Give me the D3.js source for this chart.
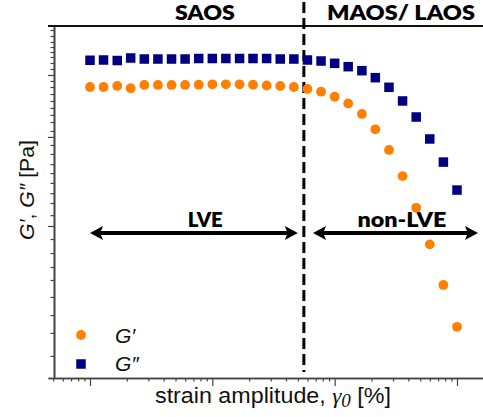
<!DOCTYPE html>
<html>
<head>
<meta charset="utf-8">
<script src="https://cdn.jsdelivr.net/npm/d3@7"></script>
<style>
  html, body { margin: 0; padding: 0; background: #fff; }
  svg { display: block; }
</style>
</head>
<body>
<svg id="chart" width="483" height="417"></svg>
<script>
// Strain amplitude sweep: γ0 in %
const strain = [0.01, 0.0129, 0.0167, 0.0215, 0.0278, 0.0359, 0.0464, 0.0599, 0.0774,
                0.1, 0.129, 0.167, 0.215, 0.278, 0.359, 0.464, 0.599, 0.774,
                1, 1.29, 1.67, 2.15, 2.78, 3.59, 4.64, 5.99, 7.74, 10];

// Storage modulus G′ [Pa]
const storageModulus = [8330, 8330, 8460, 8170, 8590, 8590, 8590, 8590, 8630,
                        8680, 8680, 8680, 8630, 8520, 8460, 8330, 8080, 7750,
                        7180, 6480, 5520, 4370, 3190, 2140, 1320, 756, 407, 215];

// Loss modulus G″ [Pa]
const lossModulus = [12520, 12570, 12470, 12960, 12760, 12760, 12760, 12760, 12860,
                     12860, 12860, 12860, 12860, 12860, 12760, 12760, 12570, 12380,
                     11950, 11350, 10680, 9600, 8290, 6730, 5270, 3770, 2650, 1730];

// Unlabelled modulus axis ticks [Pa]
const yMajorTicks = [1000, 3890, 10000];
const yMinorTicks = [19860, 18130, 16540, 15320, 14200, 13160, 12010, 10960,
                     9130, 8330, 7480, 6730, 6050, 5440, 4880, 4260,
                     3440, 3000, 2570, 2240, 1930, 1650, 1420, 1180,
                     820, 662, 535, 439, 339, 257, 196, 138];

// Regimes: boundary strain and the header labels
const regimeBoundary = 0.56;
const regimeNames = ["SAOS", "MAOS/ LAOS"];
const regimeCentres = [0.087, 3.48];

// Double-headed arrows marking the linear / nonlinear ranges
const rangeNames = ["LVE", "non-LVE"];
const rangeStart = [0.01, 0.665];
const rangeEnd = [0.5, 14.85];
const rangeLabelCentres = [0.0875, 3.55];
const rangeLevel = 900;   // Pa

const seriesNames = ["G′", "G″"];
const colors = { storage: "#ff8000", loss: "#000080" };

const svg = d3.select("#chart");

// Scales: decades of strain are ~122 px apart, decades of modulus ~151 px
const x = d3.scaleLog().domain([0.01, 10]).range([90, 457]);
const y = d3.scaleLog().domain([100, 10000]).range([377, 75]);

const frameLeft = 48, frameRight = 483, frameTop = 26, frameBottom = 378, yAxisX = 54;
const xAxisScale = x.copy().domain([x.invert(frameLeft), x.invert(frameRight)]).range([frameLeft, frameRight]);
const yAxisScale = y.copy().domain([y.invert(frameBottom), y.invert(frameTop)]).range([frameBottom, frameTop]);

// Bottom axis: minor then major ticks
const isDecade = v => Math.abs(Math.log10(v) - Math.round(Math.log10(v))) < 1e-6;
const xMinor = xAxisScale.ticks().filter(v => !isDecade(v));
const xMajor = xAxisScale.ticks().filter(isDecade);

const gx = svg.append("g").attr("transform", `translate(0,${frameBottom})`);
gx.append("g").call(d3.axisBottom(xAxisScale).tickValues(xMinor).tickSize(3.5).tickSizeOuter(0).tickFormat(""));
gx.append("g").call(d3.axisBottom(xAxisScale).tickValues(xMajor).tickSize(8).tickSizeOuter(0).tickFormat(""));
gx.selectAll("path.domain").attr("stroke", "#444").attr("stroke-width", 1.6);
gx.selectAll(".tick line").attr("stroke", "#444").attr("stroke-width", 1.2);

// Left axis
const gy = svg.append("g").attr("transform", `translate(${yAxisX},0)`);
gy.append("g").call(d3.axisLeft(yAxisScale).tickValues(yMinorTicks).tickSize(3.5).tickSizeOuter(0).tickFormat(""));
gy.append("g").call(d3.axisLeft(yAxisScale).tickValues(yMajorTicks).tickSize(6).tickSizeOuter(0).tickFormat(""));
gy.selectAll("path.domain").attr("stroke", "#444").attr("stroke-width", 1.6);
gy.selectAll(".tick line").attr("stroke", "#444").attr("stroke-width", 1.2);

// Top frame line
svg.append("line")
  .attr("x1", frameLeft).attr("x2", frameRight)
  .attr("y1", frameTop).attr("y2", frameTop)
  .attr("stroke", "#111").attr("stroke-width", 2);

// Regime boundary
svg.append("line")
  .attr("x1", x(regimeBoundary)).attr("x2", x(regimeBoundary))
  .attr("y1", 2).attr("y2", frameBottom - 6)
  .attr("stroke", "#000").attr("stroke-width", 3)
  .attr("stroke-dasharray", "11,5");

// Header labels
const boldFont = "Lato, 'Open Sans', sans-serif";
const regimeWidths = [60, 148];
svg.selectAll("text.regime").data(regimeNames).join("text")
  .attr("class", "regime")
  .attr("x", (d, i) => x(regimeCentres[i]))
  .attr("y", 19.5)
  .attr("text-anchor", "middle")
  .attr("font-family", boldFont).attr("font-weight", 800).attr("font-size", 21)
  .attr("textLength", (d, i) => regimeWidths[i])
  .attr("lengthAdjust", "spacingAndGlyphs")
  .text(d => d);

// Range arrows
const headLen = 13, headHalf = 7, shaft = 4;
function arrowPath(x1, x2, yc) {
  const n = headLen * 0.85;
  return [
    `M${x1},${yc} L${x1 + headLen},${yc - headHalf} L${x1 + n},${yc - shaft / 2}`,
    `L${x2 - n},${yc - shaft / 2} L${x2 - headLen},${yc - headHalf} L${x2},${yc}`,
    `L${x2 - headLen},${yc + headHalf} L${x2 - n},${yc + shaft / 2}`,
    `L${x1 + n},${yc + shaft / 2} L${x1 + headLen},${yc + headHalf} Z`
  ].join(" ");
}
svg.selectAll("path.range").data(rangeNames).join("path")
  .attr("class", "range")
  .attr("d", (d, i) => arrowPath(x(rangeStart[i]), x(rangeEnd[i]), y(rangeLevel)))
  .attr("fill", "#000");

const rangeWidths = [35, 89];
svg.selectAll("text.rangeLabel").data(rangeNames).join("text")
  .attr("class", "rangeLabel")
  .attr("x", (d, i) => x(rangeLabelCentres[i]))
  .attr("y", y(rangeLevel) - 6)
  .attr("text-anchor", "middle")
  .attr("font-family", boldFont).attr("font-weight", 800).attr("font-size", 21)
  .attr("textLength", (d, i) => rangeWidths[i])
  .attr("lengthAdjust", "spacingAndGlyphs")
  .text(d => d);

// Data: G″ squares, G′ circles
const sq = 9.5;
svg.append("g").selectAll("rect").data(strain).join("rect")
  .attr("x", d => x(d) - sq / 2)
  .attr("y", (d, i) => y(lossModulus[i]) - sq / 2)
  .attr("width", sq).attr("height", sq)
  .attr("fill", colors.loss);

svg.append("g").selectAll("circle").data(strain).join("circle")
  .attr("cx", d => x(d))
  .attr("cy", (d, i) => y(storageModulus[i]))
  .attr("r", 4.9)
  .attr("fill", colors.storage);

// Legend
const legend = svg.append("g");
legend.append("circle").attr("cx", 81).attr("cy", 335).attr("r", 4.9).attr("fill", colors.storage);
legend.append("rect").attr("x", 81 - sq / 2).attr("y", 364 - sq / 2).attr("width", sq).attr("height", sq).attr("fill", colors.loss);
legend.selectAll("text").data(seriesNames).join("text")
  .attr("x", 115)
  .attr("y", (d, i) => 342.5 + i * 28.5)
  .attr("font-family", "'Liberation Sans', Arial, sans-serif")
  .attr("font-style", "italic").attr("font-size", 21)
  .attr("fill", "#111")
  .text(d => d);

// Axis titles
const sans = "'Liberation Sans', Arial, sans-serif";
const serif = "'Liberation Serif', 'Times New Roman', serif";
const yTitle = svg.append("text")
  .attr("transform", "translate(34,190) rotate(-90)")
  .attr("text-anchor", "middle")
  .attr("font-family", sans).attr("font-size", 20).attr("fill", "#111")
  .attr("textLength", 100).attr("lengthAdjust", "spacingAndGlyphs");
yTitle.append("tspan").attr("font-style", "italic").text("G′");
yTitle.append("tspan").text(", ");
yTitle.append("tspan").attr("font-style", "italic").text("G″");
yTitle.append("tspan").text(" [Pa]");

const xTitle = svg.append("text")
  .attr("x", 273).attr("y", 403)
  .attr("text-anchor", "middle")
  .attr("font-family", sans).attr("font-size", 22).attr("fill", "#111")
  .attr("textLength", 236).attr("lengthAdjust", "spacingAndGlyphs");
xTitle.append("tspan").text("strain amplitude, ");
xTitle.append("tspan").attr("font-family", serif).attr("font-style", "italic").text("γ");
xTitle.append("tspan").attr("font-family", serif).attr("font-style", "italic")
  .attr("font-size", 18).attr("dy", 4).text("0");
xTitle.append("tspan").attr("dy", -4).text(" [%]");
</script>
</body>
</html>
